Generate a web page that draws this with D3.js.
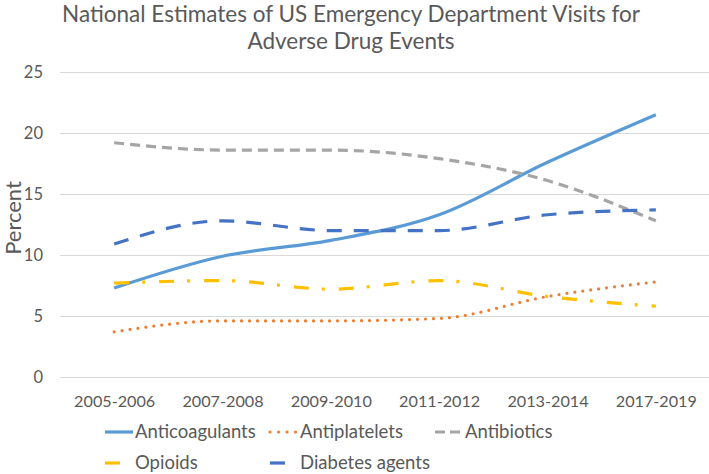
<!DOCTYPE html>
<html>
<head>
<meta charset="utf-8">
<script src="https://cdn.jsdelivr.net/npm/d3@7"></script>
<style>
  html, body { margin: 0; padding: 0; background: #fff; }
  svg { display: block; font-family: Lato, "Open Sans", sans-serif; }
</style>
</head>
<body>
<svg id="chart" width="709" height="474"></svg>
<script>
const categories = ["2005-2006", "2007-2008", "2009-2010", "2011-2012", "2013-2014", "2017-2019"];
const anticoagulants = [7.3, 9.9, 11.2, 13.3, 17.6, 21.5];
const antiplatelets = [3.7, 4.6, 4.6, 4.8, 6.6, 7.8];
const antibiotics = [19.2, 18.6, 18.6, 17.9, 16.1, 12.8];
const opioids = [7.7, 7.9, 7.2, 7.9, 6.6, 5.8];
const diabetesAgents = [10.9, 12.8, 12.0, 12.0, 13.3, 13.7];
const yTicks = [0, 5, 10, 15, 20, 25];
const titleLines = ["National Estimates of US Emergency Department Visits for", "Adverse Drug Events"];
const yLabel = "Percent";

const series = [
  { name: "Anticoagulants", values: anticoagulants, color: "#5B9BD5", dash: null, legendDash: null },
  { name: "Antiplatelets", values: antiplatelets, color: "#ED7D31", dash: "0,8", cap: "round", legendDash: "0,8.5" },
  { name: "Antibiotics", values: antibiotics, color: "#A5A5A5", dash: "10,6", legendDash: "10,5" },
  { name: "Opioids", values: opioids, color: "#FFC000", dash: "15,13,3,14", legendDash: "15,100" },
  { name: "Diabetes agents", values: diabetesAgents, color: "#4472C4", dash: "15,12", legendDash: "15,100" }
];

const svg = d3.select("#chart");
const textColor = "#595959";
const fontFam = "Lato, 'Open Sans', sans-serif";

const x = d3.scalePoint().domain(categories).range([60, 710]).padding(0.5);
const y = d3.scaleLinear().domain([0, 25]).range([377, 72]);

// Title
svg.append("g").selectAll("text").data(titleLines).join("text")
  .attr("x", 351).attr("y", (d, i) => 22 + i * 27)
  .attr("text-anchor", "middle")
  .attr("fill", textColor)
  .attr("font-size", 22.5)
  .text(d => d);

// Gridlines
const grid = d3.axisLeft(y).tickValues(yTicks).tickSize(-(709 - 60)).tickFormat("");
svg.append("g").attr("transform", "translate(60,0)").call(grid)
  .call(g => g.select(".domain").remove())
  .call(g => g.selectAll("line").attr("stroke", "#D9D9D9").attr("stroke-width", 1));

// Y tick labels
const yAxis = d3.axisLeft(y).tickValues(yTicks).tickSize(0).tickPadding(17);
svg.append("g").attr("transform", "translate(60,0)").call(yAxis)
  .call(g => g.select(".domain").remove())
  .call(g => g.selectAll("text").attr("fill", textColor).attr("font-size", 16.5).attr("font-family", fontFam));

// X tick labels
const xAxis = d3.axisBottom(x).tickSize(0).tickPadding(14);
svg.append("g").attr("transform", "translate(0,381)").call(xAxis)
  .call(g => g.select(".domain").remove())
  .call(g => g.selectAll("text").attr("fill", textColor).attr("font-size", 16.2).attr("font-family", fontFam));

// Y label
svg.append("text")
  .attr("transform", "translate(21,218) rotate(-90)")
  .attr("text-anchor", "middle")
  .attr("fill", textColor)
  .attr("font-size", 22)
  .text(yLabel);

// Lines
const line = d3.line()
  .x((d, i) => x(categories[i]))
  .y(d => y(d))
  .curve(d3.curveMonotoneX);

svg.append("g").selectAll("path").data(series).join("path")
  .attr("d", d => line(d.values))
  .attr("fill", "none")
  .attr("stroke", d => d.color)
  .attr("stroke-width", 3.2)
  .attr("stroke-linecap", d => d.cap || "butt")
  .attr("stroke-linejoin", "round")
  .attr("stroke-dasharray", d => d.dash);

// Legend
const legendPos = [
  { x: 105, y: 432 }, { x: 270, y: 432 }, { x: 435, y: 432 },
  { x: 105, y: 463 }, { x: 270, y: 463 }
];
const lg = svg.append("g").selectAll("g").data(series).join("g")
  .attr("transform", (d, i) => `translate(${legendPos[i].x},${legendPos[i].y})`);
lg.append("line")
  .attr("x1", 0).attr("x2", 28).attr("y1", 0).attr("y2", 0)
  .attr("stroke", d => d.color)
  .attr("stroke-width", 3.2)
  .attr("stroke-linecap", d => d.cap || "butt")
  .attr("stroke-dasharray", d => d.legendDash);
lg.append("text")
  .attr("x", 30)
  .attr("y", 0)
  .attr("dy", "0.35em")
  .attr("fill", textColor)
  .attr("font-size", 18.5)
  .text(d => d.name);
</script>
</body>
</html>
